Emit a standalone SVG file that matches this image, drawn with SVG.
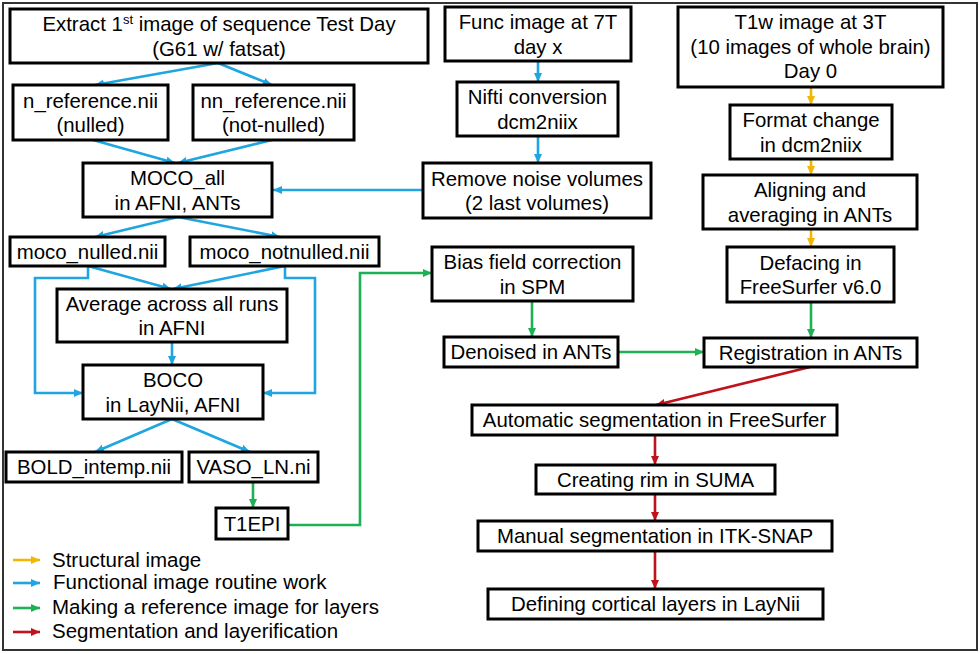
<svg xmlns="http://www.w3.org/2000/svg" width="980" height="654" viewBox="0 0 980 654">
<style>
.box{fill:#fff;stroke:#000;stroke-width:3}
.t{font-family:"Liberation Sans",Arial,Helvetica,sans-serif;font-size:20.4px;fill:#000;text-anchor:middle}
.lg{font-family:"Liberation Sans",Arial,Helvetica,sans-serif;font-size:20.5px;fill:#000}
.c{fill:none;stroke-width:2.6;stroke-linejoin:miter}
.b{stroke:#1fa5e0}.y{stroke:#f2b705}.g{stroke:#1db154}.r{stroke:#c0121c}
</style>
<defs>
<marker id="ab" markerUnits="userSpaceOnUse" markerWidth="10" markerHeight="10" viewBox="0 0 10 10" refX="9" refY="5" orient="auto"><path d="M0,1 L9,5 L0,9 z" fill="#1fa5e0"/></marker>
<marker id="ay" markerUnits="userSpaceOnUse" markerWidth="10" markerHeight="10" viewBox="0 0 10 10" refX="9" refY="5" orient="auto"><path d="M0,1 L9,5 L0,9 z" fill="#f2b705"/></marker>
<marker id="ag" markerUnits="userSpaceOnUse" markerWidth="10" markerHeight="10" viewBox="0 0 10 10" refX="9" refY="5" orient="auto"><path d="M0,1 L9,5 L0,9 z" fill="#1db154"/></marker>
<marker id="ar" markerUnits="userSpaceOnUse" markerWidth="10" markerHeight="10" viewBox="0 0 10 10" refX="9" refY="5" orient="auto"><path d="M0,1 L9,5 L0,9 z" fill="#c0121c"/></marker>
</defs>
<rect x="0" y="0" width="980" height="654" fill="#fff"/>
<rect x="3" y="3" width="974" height="647" fill="none" stroke="#333" stroke-width="2"/>

<g id="connectors">
<path class="c b" marker-end="url(#ab)" d="M218,63 L95,85"/>
<path class="c b" marker-end="url(#ab)" d="M218,63 L272,85"/>
<path class="c b" marker-end="url(#ab)" d="M93,140 L175,163"/>
<path class="c b" marker-end="url(#ab)" d="M272,140 L178,163"/>
<path class="c b" marker-end="url(#ab)" d="M178,217 L95,237"/>
<path class="c b" marker-end="url(#ab)" d="M178,217 L280,237"/>
<path class="c b" marker-end="url(#ab)" d="M423,190 L273,190"/>
<path class="c b" marker-end="url(#ab)" d="M538,61 L538,82"/>
<path class="c b" marker-end="url(#ab)" d="M538,136 L538,163"/>
<path class="c b" marker-end="url(#ab)" d="M88,266 L171,289"/>
<path class="c b" marker-end="url(#ab)" d="M88,266 L88,278 L35,278 L35,393 L83,393"/>
<path class="c b" marker-end="url(#ab)" d="M285,266 L173,289"/>
<path class="c b" marker-end="url(#ab)" d="M285,266 L285,278 L315,278 L315,393 L263,393"/>
<path class="c b" marker-end="url(#ab)" d="M172,342 L172,365"/>
<path class="c b" marker-end="url(#ab)" d="M172,419 L95,452"/>
<path class="c b" marker-end="url(#ab)" d="M172,419 L250,452"/>
<path class="c g" marker-end="url(#ag)" d="M253,482 L253,508"/>
<path class="c g" marker-end="url(#ag)" d="M288,525 L360,525 L360,273 L432,273"/>
<path class="c g" marker-end="url(#ag)" d="M532,301 L532,337"/>
<path class="c g" marker-end="url(#ag)" d="M618,352 L704,352"/>
<path class="c g" marker-end="url(#ag)" d="M811,302 L811,338"/>
<path class="c y" marker-end="url(#ay)" d="M811,87 L811,105"/>
<path class="c y" marker-end="url(#ay)" d="M811,159 L811,175"/>
<path class="c y" marker-end="url(#ay)" d="M811,229 L811,247"/>
<path class="c r" marker-end="url(#ar)" d="M810,367 L656,405"/>
<path class="c r" marker-end="url(#ar)" d="M655,435 L655,465"/>
<path class="c r" marker-end="url(#ar)" d="M655,494 L655,521"/>
<path class="c r" marker-end="url(#ar)" d="M655,551 L655,589"/>
</g>

<g id="extract"><rect class="box" x="10" y="9" width="418" height="54"/>
<text class="t" x="219" y="31">Extract 1<tspan dy="-7" font-size="13">st</tspan><tspan dy="7"> image of sequence Test Day</tspan></text>
<text class="t" x="219" y="55.5">(G61 w/ fatsat)</text></g>
<g id="n_reference"><rect class="box" x="13" y="85" width="155" height="55"/>
<text class="t" x="90.5" y="107.5">n_reference.nii</text><text class="t" x="90.5" y="132">(nulled)</text></g>
<g id="nn_reference"><rect class="box" x="193" y="85" width="161" height="55"/>
<text class="t" x="273.5" y="107.5">nn_reference.nii</text><text class="t" x="273.5" y="132">(not-nulled)</text></g>
<g id="moco_all"><rect class="box" x="83" y="163" width="189" height="54"/>
<text class="t" x="177.5" y="185">MOCO_all</text><text class="t" x="177.5" y="209.5">in AFNI, ANTs</text></g>
<g id="moco_nulled"><rect class="box" x="10" y="237" width="155" height="29"/>
<text class="t" x="87.5" y="258.5">moco_nulled.nii</text></g>
<g id="moco_notnulled"><rect class="box" x="190" y="237" width="189" height="29"/>
<text class="t" x="284.5" y="258.5">moco_notnulled.nii</text></g>
<g id="average"><rect class="box" x="57" y="289" width="230" height="53"/>
<text class="t" x="172" y="310.5">Average across all runs</text><text class="t" x="172" y="335">in AFNI</text></g>
<g id="boco"><rect class="box" x="83" y="365" width="180" height="54"/>
<text class="t" x="173" y="387">BOCO</text><text class="t" x="173" y="411.5">in LayNii, AFNI</text></g>
<g id="bold"><rect class="box" x="6" y="452" width="176" height="30"/>
<text class="t" x="94" y="474">BOLD_intemp.nii</text></g>
<g id="vaso"><rect class="box" x="189" y="452" width="129" height="30"/>
<text class="t" x="253.5" y="474">VASO_LN.ni</text></g>
<g id="t1epi"><rect class="box" x="216" y="508" width="72" height="31"/>
<text class="t" x="252" y="530.5">T1EPI</text></g>
<g id="func"><rect class="box" x="445" y="7" width="186" height="54"/>
<text class="t" x="538" y="29">Func image at 7T</text><text class="t" x="538" y="53.5">day x</text></g>
<g id="nifti"><rect class="box" x="457" y="82" width="161" height="54"/>
<text class="t" x="537.5" y="104">Nifti conversion</text><text class="t" x="537.5" y="128.5">dcm2niix</text></g>
<g id="remove"><rect class="box" x="423" y="163" width="228" height="55"/>
<text class="t" x="537" y="185.5">Remove noise volumes</text><text class="t" x="537" y="210">(2 last volumes)</text></g>
<g id="t1w"><rect class="box" x="678" y="7" width="265" height="80"/>
<text class="t" x="810.5" y="29">T1w image at 3T</text><text class="t" x="810.5" y="53.5">(10 images of whole brain)</text><text class="t" x="810.5" y="78">Day 0</text></g>
<g id="format"><rect class="box" x="730" y="105" width="162" height="54"/>
<text class="t" x="811" y="127">Format change</text><text class="t" x="811" y="151.5">in dcm2niix</text></g>
<g id="aligning"><rect class="box" x="703" y="175" width="214" height="54"/>
<text class="t" x="810" y="197">Aligning and</text><text class="t" x="810" y="221.5">averaging in ANTs</text></g>
<g id="defacing"><rect class="box" x="727" y="247" width="167" height="55"/>
<text class="t" x="810.5" y="269.5">Defacing in</text><text class="t" x="810.5" y="294">FreeSurfer v6.0</text></g>
<g id="bias"><rect class="box" x="432" y="247" width="201" height="54"/>
<text class="t" x="532.5" y="269">Bias field correction</text><text class="t" x="532.5" y="293.5">in SPM</text></g>
<g id="denoised"><rect class="box" x="444" y="337" width="174" height="30"/>
<text class="t" x="531" y="359">Denoised in ANTs</text></g>
<g id="registration"><rect class="box" x="704" y="338" width="213" height="29"/>
<text class="t" x="810.5" y="359.5">Registration in ANTs</text></g>
<g id="automatic"><rect class="box" x="472" y="405" width="365" height="30"/>
<text class="t" x="654.5" y="427">Automatic segmentation in FreeSurfer</text></g>
<g id="rim"><rect class="box" x="536" y="465" width="239" height="29"/>
<text class="t" x="655.5" y="486.5">Creating rim in SUMA</text></g>
<g id="manual"><rect class="box" x="478" y="521" width="354" height="30"/>
<text class="t" x="655" y="543">Manual segmentation in ITK-SNAP</text></g>
<g id="defining"><rect class="box" x="488" y="589" width="335" height="30"/>
<text class="t" x="655.5" y="611">Defining cortical layers in LayNii</text></g>

<g id="legend">
<path class="c y" marker-end="url(#ay)" d="M13,560 L40,560"/>
<path class="c b" marker-end="url(#ab)" d="M13,583 L40,583"/>
<path class="c g" marker-end="url(#ag)" d="M13,608 L40,608"/>
<path class="c r" marker-end="url(#ar)" d="M13,632 L40,632"/>
<text class="lg" x="52" y="567">Structural image</text>
<text class="lg" x="53" y="589">Functional image routine work</text>
<text class="lg" x="52" y="614">Making a reference image for layers</text>
<text class="lg" x="52" y="638">Segmentation and layerification</text>
</g>
</svg>
